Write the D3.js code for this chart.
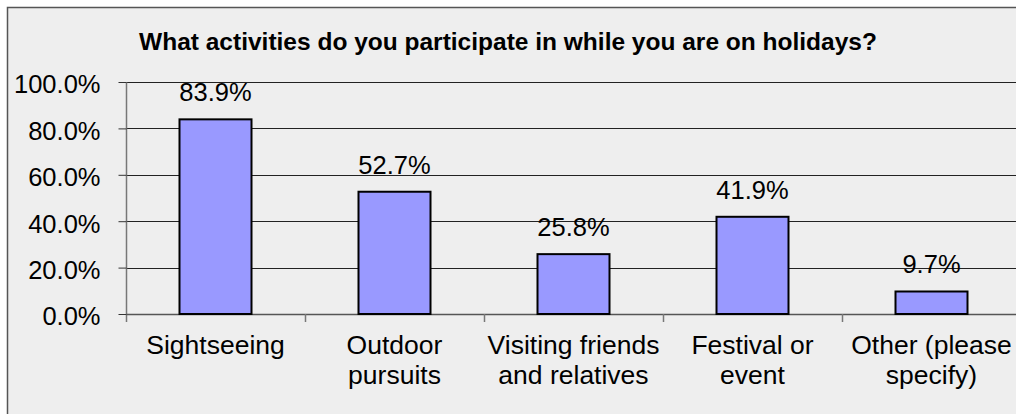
<!DOCTYPE html>
<html><head><meta charset="utf-8">
<script src="https://cdn.jsdelivr.net/npm/d3@7"></script>
<style>html,body{margin:0;padding:0;background:#fff;}svg{display:block;font-family:"Liberation Sans",Arial,sans-serif;}</style>
</head><body>
<svg id="c" width="1016" height="414"></svg>
<script>
const title = "What activities do you participate in while you are on holidays?";
const categories = [["Sightseeing"],["Outdoor","pursuits"],["Visiting friends","and relatives"],["Festival or","event"],["Other (please","specify)"]];
const values = [83.9, 52.7, 25.8, 41.9, 9.7];
const yTicks = [0, 20, 40, 60, 80, 100];

(function(){
const svg = d3.select("#c");
svg.append("rect").attr("x",7.5).attr("y",7.5).attr("width",1030).attr("height",420)
  .attr("fill","#eeeeee").attr("stroke","#555").attr("stroke-width",1.5);

const pL = 126, pR = 1021, pT = 82, pB = 314;
const x = d3.scaleBand().domain(d3.range(categories.length)).range([pL, pR]).paddingInner(0).paddingOuter(0);
const y = d3.scaleLinear().domain([0, 100]).range([pB, pT]);

svg.append("text").attr("x",508).attr("y",50).attr("text-anchor","middle")
  .attr("font-size",24.5).attr("font-weight","bold").attr("fill","#000").text(title);

// gridlines
svg.append("g").selectAll("line").data(yTicks.filter(d=>d>0)).join("line")
  .attr("x1",pL).attr("x2",pR).attr("y1",d=>Math.round(y(d))+0.5).attr("y2",d=>Math.round(y(d))+0.5)
  .attr("stroke","#222").attr("stroke-width",1);

// y axis
const yAxis = d3.axisLeft(y).tickValues(yTicks).tickFormat(d=>d3.format(".1f")(d)+"%").tickSize(8).tickPadding(18);
const gy = svg.append("g").attr("transform",`translate(${pL+0.5},0)`).call(yAxis);
gy.select(".domain").attr("stroke","#777").attr("d",`M0,${pT}V${pB+8}`).attr("stroke-width",1.5);
gy.selectAll(".tick line").attr("stroke","#333");
gy.selectAll(".tick text").attr("font-size",25.5).attr("fill","#000").attr("font-family","Liberation Sans, Arial, sans-serif").attr("dy","0.43em");

// x axis
const xAxis = d3.axisBottom(x).tickSize(0).tickFormat("");
const gx = svg.append("g").attr("transform",`translate(0,${pB})`).call(xAxis);
gx.select(".domain").attr("stroke","#555").attr("stroke-width",1.5);
svg.append("g").selectAll("line").data(d3.range(categories.length)).join("line")
  .attr("x1",d=>x(d)+x.bandwidth()+0.5).attr("x2",d=>x(d)+x.bandwidth()+0.5)
  .attr("y1",pB).attr("y2",pB+8).attr("stroke","#777").attr("stroke-width",1.5);

// bars
const bw = 72;
svg.append("g").selectAll("rect").data(values).join("rect")
  .attr("x",(d,i)=>x(i)+x.bandwidth()/2-bw/2).attr("y",d=>y(d))
  .attr("width",bw).attr("height",d=>pB-y(d))
  .attr("fill","#9999ff").attr("stroke","#000").attr("stroke-width",2);

// value labels
svg.append("g").selectAll("text").data(values).join("text")
  .attr("x",(d,i)=>x(i)+x.bandwidth()/2).attr("y",d=>y(d)-18)
  .attr("text-anchor","middle").attr("font-size",25.5).attr("fill","#000")
  .text(d=>d3.format(".1f")(d)+"%");

// category labels
const cl = svg.append("g").selectAll("text").data(categories).join("text")
  .attr("x",(d,i)=>x(i)+x.bandwidth()/2).attr("y",354)
  .attr("text-anchor","middle").attr("font-size",26.5).attr("fill","#000");
cl.selectAll("tspan").data(d=>d).join("tspan")
  .attr("x",function(){return this.parentNode.getAttribute("x");})
  .attr("dy",(d,i)=>i===0?0:30).text(d=>d);
})();
</script>
</body></html>
